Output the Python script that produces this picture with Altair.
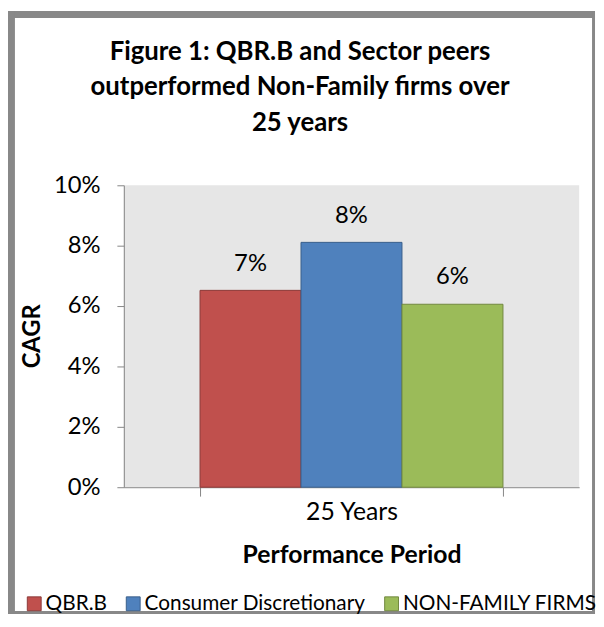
import altair as alt
import pandas as pd

periods = ["25 Years"]
series = ["QBR.B", "Consumer Discretionary", "NON-FAMILY FIRMS"]
cagr = [0.0652, 0.0811, 0.0606]
fill_colors = ["#C0504D", "#4F81BD", "#9BBB59"]
stroke_colors = ["#8C3A38", "#3A5F8B", "#71893F"]
y_ticks = [0, 0.02, 0.04, 0.06, 0.08, 0.10]
title_lines = ["Figure 1: QBR.B and Sector peers", "outperformed Non-Family firms over", "25 years"]

df = pd.DataFrame({"period": periods * len(series), "series": series, "cagr": cagr})
FONT = "Lato"
GRAY = "#868686"

x = alt.X("period:N", title="Performance Period",
          scale=alt.Scale(paddingInner=0, paddingOuter=0.2516),
          axis=alt.Axis(labelAngle=0, labelFontSize=25, labelFont=FONT, labelColor="black",
                        labelPadding=4, tickSize=9, tickBand="extent", tickColor=GRAY,
                        domainColor=GRAY, titleFont=FONT, titleFontSize=25,
                        titleFontWeight="bold", titleColor="black", titleY=68,
                        titleBaseline="middle"))
xo = alt.XOffset("series:N", sort=series, scale=alt.Scale(paddingInner=0, paddingOuter=0))
y = alt.Y("cagr:Q", title="CAGR", scale=alt.Scale(domain=[0, 0.1], nice=False),
          axis=alt.Axis(values=y_ticks, format=".0%", grid=False, tickSize=7, tickColor=GRAY,
                        domainColor=GRAY, labelFontSize=24, labelFont=FONT, labelColor="black",
                        labelPadding=17, titleFont=FONT, titleFontSize=24, titleFontWeight="bold",
                        titleColor="black", titleX=-92, titleY=152, titleAngle=270,
                        titleAlign="center", titleBaseline="middle"))

leg = alt.Legend(title=None, orient="none", legendX=-101, legendY=412, direction="horizontal",
                 symbolType="square", symbolSize=196, symbolStrokeWidth=1, labelFont=FONT,
                 labelFontSize=21, labelColor="black", labelOffset=1, columnPadding=15, padding=0,
                 labelLimit=500)

bars = alt.Chart(df).mark_bar(strokeWidth=1).encode(
    x=x, xOffset=xo, y=y,
    color=alt.Color("series:N", sort=series, scale=alt.Scale(domain=series, range=fill_colors), legend=leg),
    stroke=alt.Stroke("series:N", sort=series, scale=alt.Scale(domain=series, range=stroke_colors), legend=leg),
)

labels = alt.Chart(df).mark_text(dy=-27, fontSize=24, font=FONT, color="black", baseline="middle").encode(
    x=x, xOffset=xo, y=y, text=alt.Text("cagr:Q", format=".0%")
)

dummy = pd.DataFrame({"d": [0]})
frame_color = "#888888"
top_band = alt.Chart(dummy).mark_rect(color=frame_color).encode(
    x=alt.value(-117), x2=alt.value(476), y=alt.value(-176), y2=alt.value(-169))
left_band = alt.Chart(dummy).mark_rect(color=frame_color).encode(
    x=alt.value(-117), x2=alt.value(-110), y=alt.value(-176), y2=alt.value(433))
right_line = alt.Chart(dummy).mark_rect(color=frame_color).encode(
    x=alt.value(473), x2=alt.value(476), y=alt.value(-176), y2=alt.value(433))
bottom_line = alt.Chart(dummy).mark_rect(color=frame_color).encode(
    x=alt.value(-117), x2=alt.value(476), y=alt.value(430), y2=alt.value(433))

chart = alt.layer(bars, labels, top_band, left_band, right_line, bottom_line).properties(
    width=460, height=305,
    autosize=alt.AutoSizeParams(type="none"),
    padding={"left": 117, "top": 176, "right": 17, "bottom": 128},
    background="white",
    title=alt.Title(text=title_lines, fontSize=26, font=FONT, fontWeight="bold", anchor="middle",
                    dx=-52, offset=-126, lineHeight=36, color="black"),
).configure_view(fill="#E6E6E6", strokeWidth=0)

chart.save("out.html", embed_options={"renderer": "svg", "actions": False})
